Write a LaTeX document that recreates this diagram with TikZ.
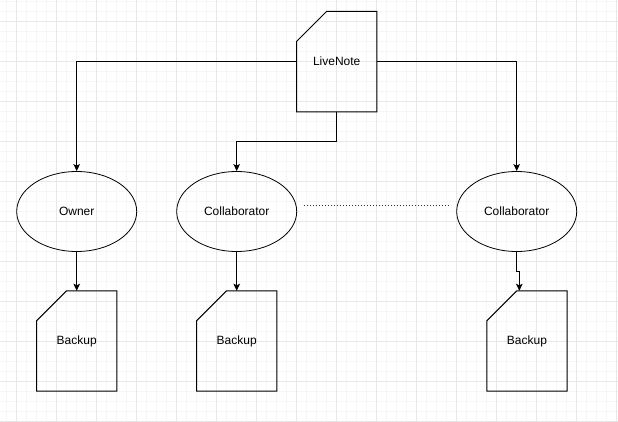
\documentclass[tikz,border=0pt]{standalone}
\usepackage{fontspec}
\setmainfont{Liberation Sans}
\usetikzlibrary{shapes.geometric,arrows.meta,calc}
\definecolor{gridminor}{HTML}{F6F6F6}
\definecolor{gridmajor}{HTML}{E8E8E8}
\tikzset{
  docbox/.style={draw=none,minimum width=80pt,minimum height=100pt,inner sep=0pt,font=\fontsize{12}{14}\selectfont},
  person/.style={draw=black,line width=0.8pt,ellipse,minimum width=120pt,minimum height=80pt,inner sep=0pt,font=\fontsize{12}{14}\selectfont},
  docline/.style={draw=black,line width=1pt},
  arr/.style={draw=black,line width=1pt,-{Stealth[length=7pt,width=6.5pt,inset=1.5pt]}},
  dots/.style={draw=black!80,line width=0.9pt,dash pattern=on 1pt off 2pt},
}
\begin{document}
\begin{tikzpicture}[x=1pt,y=-1pt]
\useasboundingbox (0,0) rectangle (618,422);
\fill[white] (0,0) rectangle (618,422);
\begin{scope}
\clip (0,0) rectangle (618,422);
\foreach \x in {6.7,16.7,...,616.8} \draw[gridminor,line width=0.8pt] (\x,0) -- (\x,422);
\foreach \y in {1.7,11.7,...,421.8} \draw[gridminor,line width=0.8pt] (0,\y) -- (618,\y);
\foreach \x in {16.7,56.7,...,616.8} \draw[gridmajor,line width=0.8pt] (\x,0) -- (\x,422);
\foreach \y in {21.7,61.7,...,421.8} \draw[gridmajor,line width=0.8pt] (0,\y) -- (618,\y);
\end{scope}

\node[docbox] (live) at (336.7,61.7) {LiveNote};
\node[docbox] (b1) at (76.7,341) {Backup};
\node[docbox] (b2) at (236.7,341) {Backup};
\node[docbox] (b3) at (527,341) {Backup};
\foreach \n in {live,b1,b2,b3}{
  \draw[docline] ([yshift=-30pt]\n.north west) -- ([xshift=30pt]\n.north west) -- (\n.north east) -- (\n.south east) -- (\n.south west) -- cycle;
}

\node[person] (owner) at (76.7,211.5) {Owner};
\node[person] (c1) at (236.7,211.5) {Collaborator};
\node[person] (c2) at (516.7,211.5) {Collaborator};

\draw[arr] (live.west) -| (owner.north);
\draw[arr] (live.east) -| (c2.north);
\draw[arr] (live.south) -- ++(0,30) -| (c1.north);
\draw[arr] (owner.south) -- (b1.north -| owner.south);
\draw[arr] (c1.south) -- (b2.north -| c1.south);
\draw[arr] (c2.south) -- ++(0,20) -- ++(2.6,0) coordinate (j) -- (j |- b3.north);

\draw[dots] ([shift={(6.5,-6)}]c1.east) -- ([shift={(-7.5,-6)}]c2.west);
\end{tikzpicture}
\end{document}
